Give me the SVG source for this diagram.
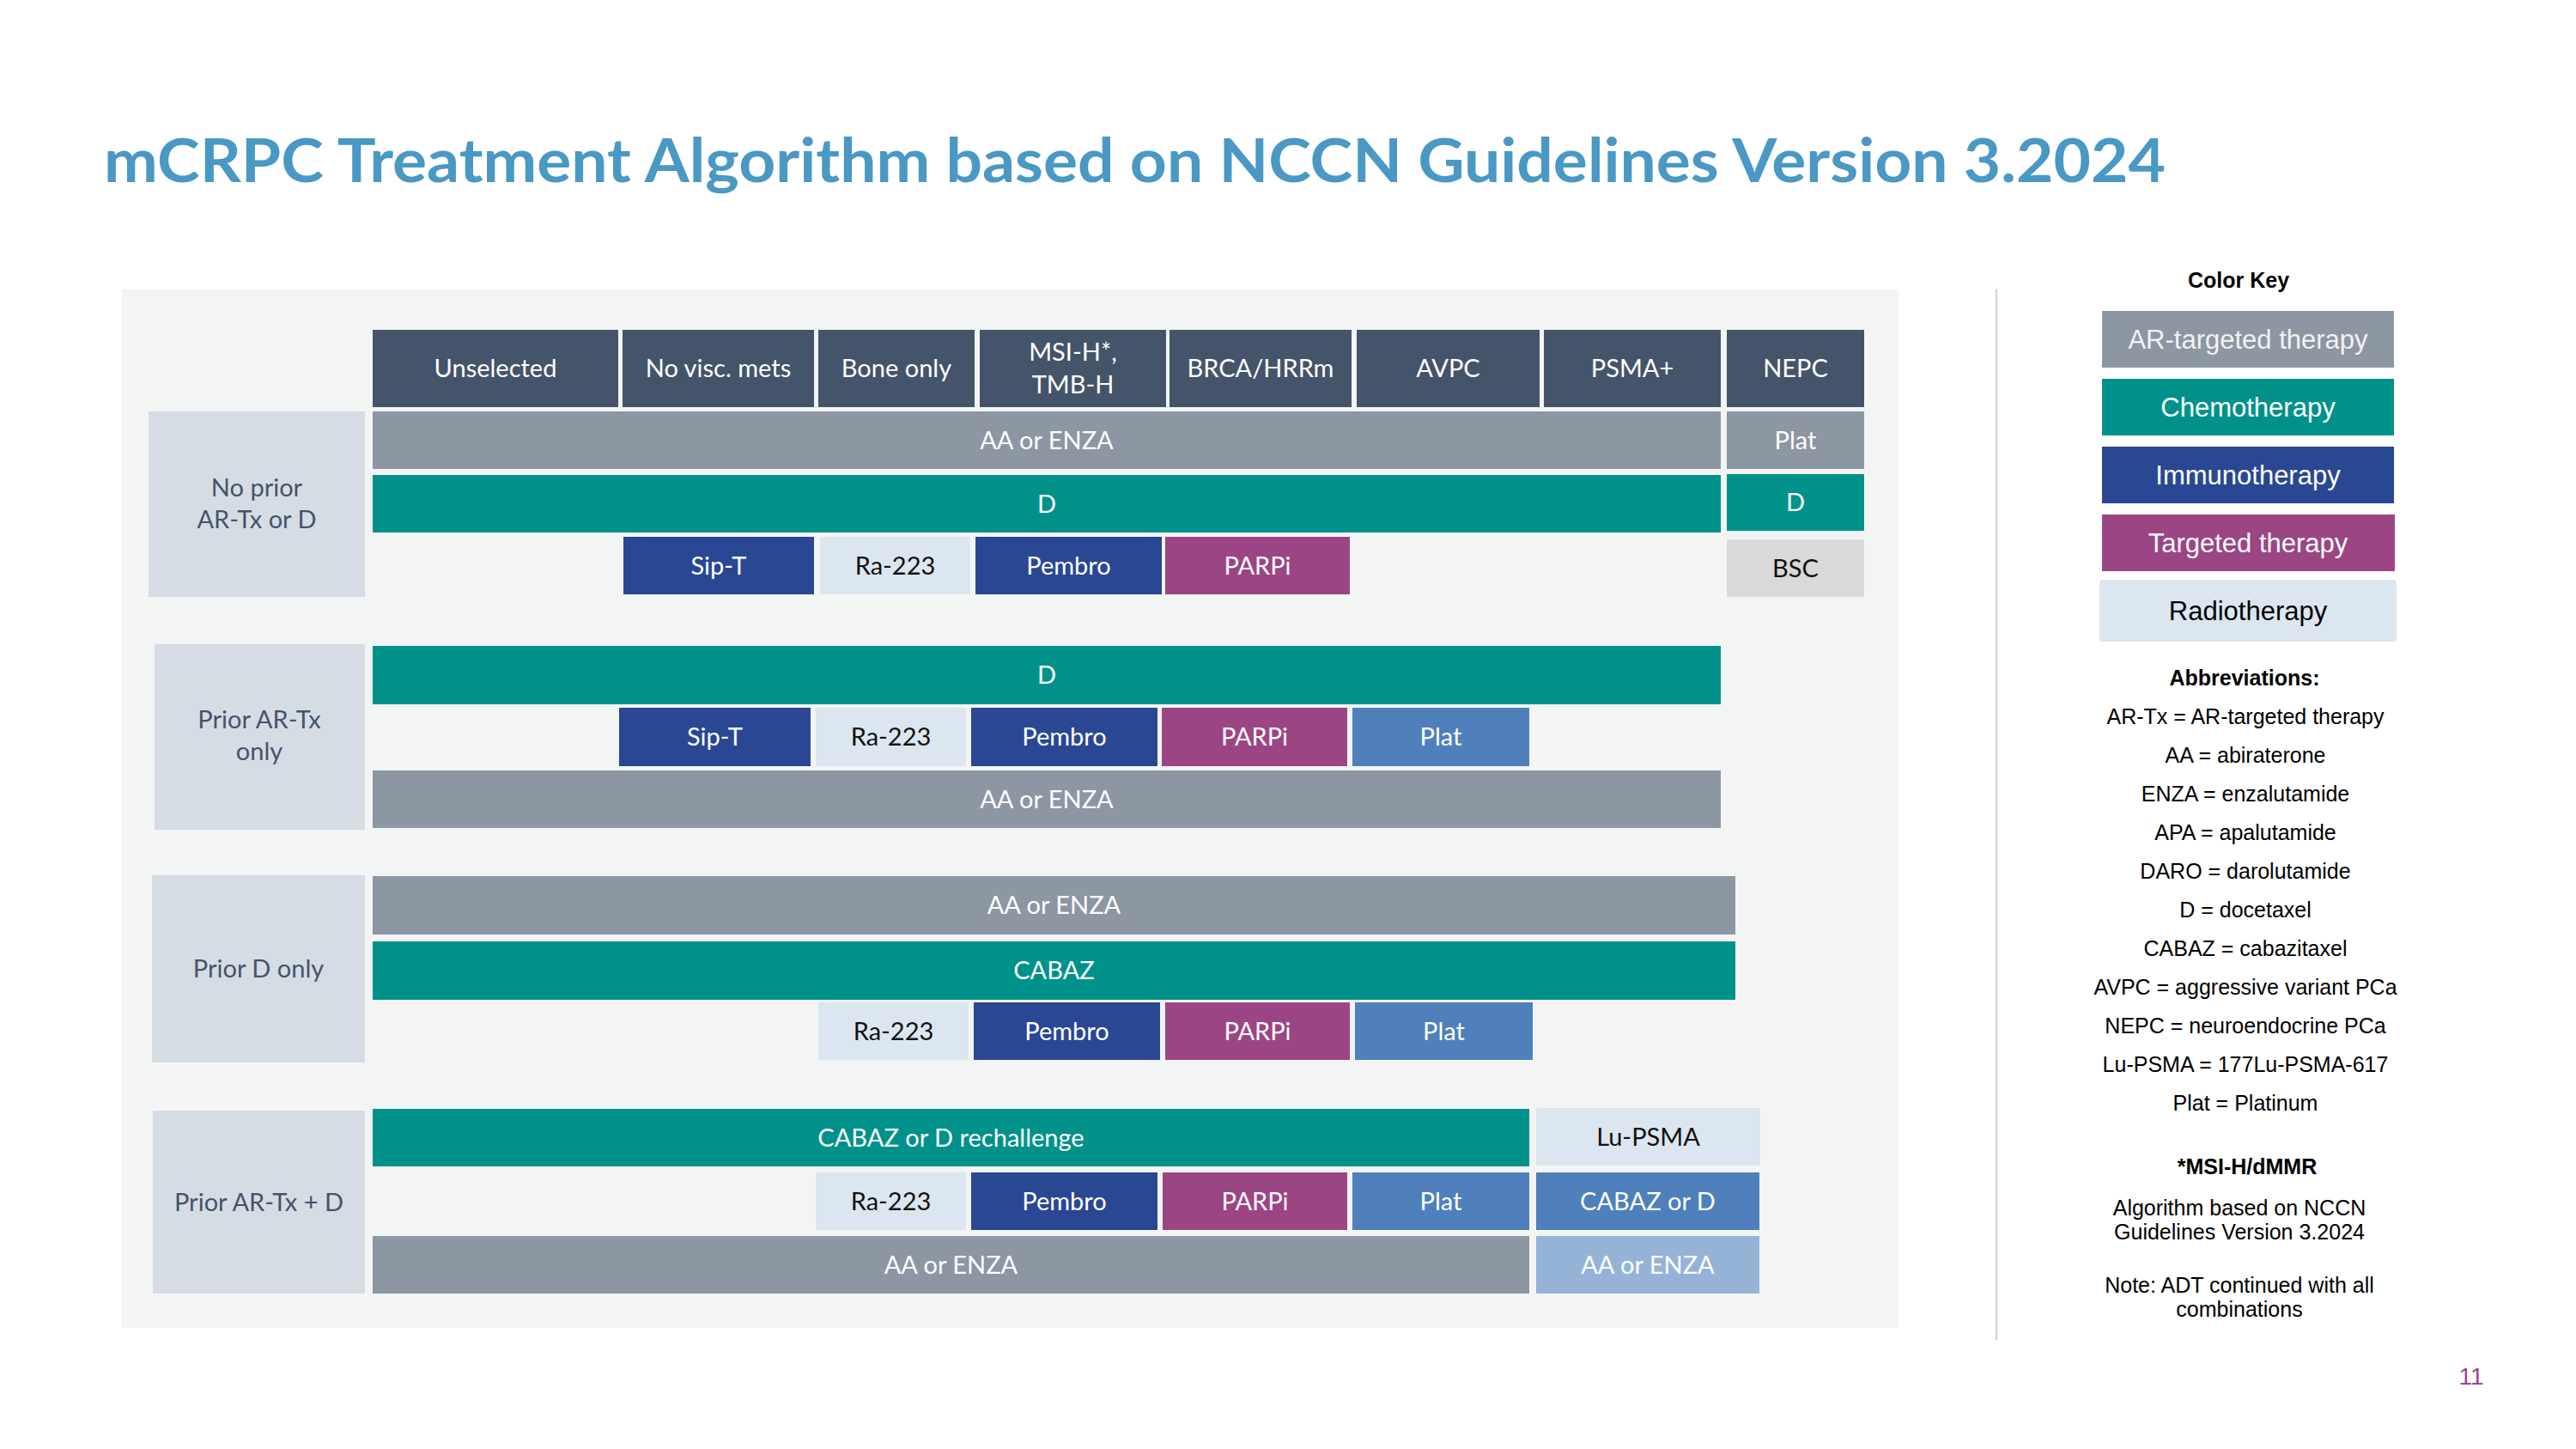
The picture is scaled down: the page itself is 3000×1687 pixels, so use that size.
<svg xmlns="http://www.w3.org/2000/svg" width="3000" height="1687" viewBox="0 0 3000 1687">
<style>
.hdr{fill:#44546A}
.ar{fill:#8D96A3}
.chemo{fill:#00928A}
.immuno{fill:#2A4794}
.target{fill:#9C4585}
.radio{fill:#DCE6F0}
.plat{fill:#4F80BB}
.arlight{fill:#95B3D7}
.bsc{fill:#D9D9D9}
.lbl{fill:#D6DCE4}
.t{font-family:Lato,"Open Sans","Liberation Sans",sans-serif;font-size:29px;text-anchor:middle}
.w{fill:#FFFFFF}
.k{fill:#111111}
.s{fill:#44546A}
.leg{font-family:"Liberation Sans",Arial,sans-serif;text-anchor:middle;fill:#000000}
.legbox{font-family:"Liberation Sans",Arial,sans-serif;text-anchor:middle;font-size:31px}
.ab{font-size:25px}
.b{font-weight:bold}
</style>
<rect width="3000" height="1687" fill="#FFFFFF"/>
<text id="title" x="121" y="212" font-family="Lato,'Open Sans',sans-serif" font-weight="bold" font-size="70" fill="#4A98C4" textLength="2401" lengthAdjust="spacingAndGlyphs">mCRPC Treatment Algorithm based on NCCN Guidelines Version 3.2024</text>
<rect id="panel" x="142" y="337" width="2069" height="1209" fill="#F3F5F5"/>
<g id="connectors"/>
<g id="header">
<g id="h-unselected"><rect class="hdr" x="434" y="384" width="286" height="90"/><text class="t w" x="577" y="439">Unselected</text></g>
<g id="h-novisc"><rect class="hdr" x="725" y="384" width="223" height="90"/><text class="t w" x="836.5" y="439">No visc. mets</text></g>
<g id="h-bone"><rect class="hdr" x="953" y="384" width="182" height="90"/><text class="t w" x="1044" y="439">Bone only</text></g>
<g id="h-msi"><rect class="hdr" x="1141" y="384" width="217" height="90"/><text class="t w" x="1249.5" y="420">MSI-H*,</text><text class="t w" x="1249.5" y="458">TMB-H</text></g>
<g id="h-brca"><rect class="hdr" x="1362" y="384" width="212" height="90"/><text class="t w" x="1468" y="439">BRCA/HRRm</text></g>
<g id="h-avpc"><rect class="hdr" x="1580" y="384" width="213" height="90"/><text class="t w" x="1686.5" y="439">AVPC</text></g>
<g id="h-psma"><rect class="hdr" x="1798" y="384" width="206" height="90"/><text class="t w" x="1901" y="439">PSMA+</text></g>
<g id="h-nepc"><rect class="hdr" x="2011" y="384" width="160" height="90"/><text class="t w" x="2091" y="439">NEPC</text></g>
</g>
<g id="group1">
<g id="g1-label"><rect class="lbl" x="173" y="479" width="252" height="216"/><text class="t s" x="299" y="578">No prior</text><text class="t s" x="299" y="615">AR-Tx or D</text></g>
<g id="g1-aa"><rect class="ar" x="434" y="479" width="1570" height="67"/><text class="t w" x="1219" y="523">AA or ENZA</text></g>
<g id="g1-plat"><rect class="ar" x="2011" y="479" width="160" height="67"/><text class="t w" x="2091" y="523">Plat</text></g>
<g id="g1-d"><rect class="chemo" x="434" y="553" width="1570" height="67"/><text class="t w" x="1219" y="597">D</text></g>
<g id="g1-d-nepc"><rect class="chemo" x="2011" y="552" width="160" height="66"/><text class="t w" x="2091" y="595">D</text></g>
<g id="g1-sipt"><rect class="immuno" x="726" y="625" width="222" height="67"/><text class="t w" x="837" y="669">Sip-T</text></g>
<g id="g1-ra"><rect class="radio" x="955" y="625" width="175" height="67"/><text class="t k" x="1042.5" y="669">Ra-223</text></g>
<g id="g1-pembro"><rect class="immuno" x="1136" y="625" width="217" height="67"/><text class="t w" x="1244.5" y="669">Pembro</text></g>
<g id="g1-parpi"><rect class="target" x="1357" y="625" width="215" height="67"/><text class="t w" x="1464.5" y="669">PARPi</text></g>
<g id="g1-bsc"><rect class="bsc" x="2011" y="628" width="160" height="67"/><text class="t k" x="2091" y="672">BSC</text></g>
</g>
<g id="group2">
<g id="g2-label"><rect class="lbl" x="180" y="750" width="245" height="216"/><text class="t s" x="302" y="848">Prior AR-Tx</text><text class="t s" x="302" y="885">only</text></g>
<g id="g2-d"><rect class="chemo" x="434" y="752" width="1570" height="68"/><text class="t w" x="1219" y="796">D</text></g>
<g id="g2-sipt"><rect class="immuno" x="721" y="824" width="223" height="68"/><text class="t w" x="832.5" y="868">Sip-T</text></g>
<g id="g2-ra"><rect class="radio" x="950" y="824" width="175" height="68"/><text class="t k" x="1037.5" y="868">Ra-223</text></g>
<g id="g2-pembro"><rect class="immuno" x="1131" y="824" width="217" height="68"/><text class="t w" x="1239.5" y="868">Pembro</text></g>
<g id="g2-parpi"><rect class="target" x="1353" y="824" width="216" height="68"/><text class="t w" x="1461" y="868">PARPi</text></g>
<g id="g2-plat"><rect class="plat" x="1575" y="824" width="206" height="68"/><text class="t w" x="1678" y="868">Plat</text></g>
<g id="g2-aa"><rect class="ar" x="434" y="897" width="1570" height="67"/><text class="t w" x="1219" y="941">AA or ENZA</text></g>
</g>
<g id="group3">
<g id="g3-label"><rect class="lbl" x="177" y="1019" width="248" height="218"/><text class="t s" x="301" y="1138">Prior D only</text></g>
<g id="g3-aa"><rect class="ar" x="434" y="1020" width="1587" height="68"/><text class="t w" x="1227.5" y="1064">AA or ENZA</text></g>
<g id="g3-cabaz"><rect class="chemo" x="434" y="1096" width="1587" height="68"/><text class="t w" x="1227.5" y="1140">CABAZ</text></g>
<g id="g3-ra"><rect class="radio" x="953" y="1167" width="175" height="67"/><text class="t k" x="1040.5" y="1211">Ra-223</text></g>
<g id="g3-pembro"><rect class="immuno" x="1134" y="1167" width="217" height="67"/><text class="t w" x="1242.5" y="1211">Pembro</text></g>
<g id="g3-parpi"><rect class="target" x="1357" y="1167" width="215" height="67"/><text class="t w" x="1464.5" y="1211">PARPi</text></g>
<g id="g3-plat"><rect class="plat" x="1578" y="1167" width="207" height="67"/><text class="t w" x="1681.5" y="1211">Plat</text></g>
</g>
<g id="group4">
<g id="g4-label"><rect class="lbl" x="178" y="1293" width="247" height="213"/><text class="t s" x="301.5" y="1410">Prior AR-Tx + D</text></g>
<g id="g4-cabaz"><rect class="chemo" x="434" y="1291" width="1347" height="67"/><text class="t w" x="1107.5" y="1335">CABAZ or D rechallenge</text></g>
<g id="g4-lu"><rect class="radio" x="1789" y="1290" width="261" height="67"/><text class="t k" x="1919.5" y="1334">Lu-PSMA</text></g>
<g id="g4-ra"><rect class="radio" x="950" y="1365" width="175" height="67"/><text class="t k" x="1037.5" y="1409">Ra-223</text></g>
<g id="g4-pembro"><rect class="immuno" x="1131" y="1365" width="217" height="67"/><text class="t w" x="1239.5" y="1409">Pembro</text></g>
<g id="g4-parpi"><rect class="target" x="1354" y="1365" width="215" height="67"/><text class="t w" x="1461.5" y="1409">PARPi</text></g>
<g id="g4-plat"><rect class="plat" x="1575" y="1365" width="206" height="67"/><text class="t w" x="1678" y="1409">Plat</text></g>
<g id="g4-cabazd"><rect class="plat" x="1789" y="1365" width="260" height="67"/><text class="t w" x="1919" y="1409">CABAZ or D</text></g>
<g id="g4-aa"><rect class="ar" x="434" y="1439" width="1347" height="67"/><text class="t w" x="1107.5" y="1483">AA or ENZA</text></g>
<g id="g4-aa2"><rect class="arlight" x="1789" y="1439" width="260" height="67"/><text class="t w" x="1919" y="1483">AA or ENZA</text></g>
</g>
<line id="divider" x1="2325" y1="337" x2="2325" y2="1560" stroke="#D0D0D0" stroke-width="2"/>
<g id="colorkey">
<text class="leg b ab" x="2607" y="335">Color Key</text>
<g id="key-ar"><rect class="ar" x="2448" y="362" width="340" height="66"/><text class="legbox" x="2618" y="406" fill="#F2F2F2">AR-targeted therapy</text></g>
<g id="key-chemo"><rect class="chemo" x="2448" y="441" width="340" height="66"/><text class="legbox" x="2618" y="485" fill="#FFFFFF">Chemotherapy</text></g>
<g id="key-immuno"><rect class="immuno" x="2448" y="520" width="340" height="66"/><text class="legbox" x="2618" y="564" fill="#FFFFFF">Immunotherapy</text></g>
<g id="key-target"><rect class="target" x="2448" y="599" width="341" height="66"/><text class="legbox" x="2618" y="643" fill="#FFFFFF">Targeted therapy</text></g>
<g id="key-radio"><rect class="radio" x="2445" y="675" width="346" height="72" rx="4"/><text class="legbox" x="2618" y="722" fill="#000000">Radiotherapy</text></g>
</g>
<g id="abbreviations">
<text class="leg b ab" x="2614" y="798">Abbreviations:</text>
<text class="leg ab" x="2615" y="843">AR-Tx = AR-targeted therapy</text>
<text class="leg ab" x="2615" y="888">AA = abiraterone</text>
<text class="leg ab" x="2615" y="933">ENZA = enzalutamide</text>
<text class="leg ab" x="2615" y="978">APA = apalutamide</text>
<text class="leg ab" x="2615" y="1023">DARO = darolutamide</text>
<text class="leg ab" x="2615" y="1068">D = docetaxel</text>
<text class="leg ab" x="2615" y="1113">CABAZ = cabazitaxel</text>
<text class="leg ab" x="2615" y="1158">AVPC = aggressive variant PCa</text>
<text class="leg ab" x="2615" y="1203">NEPC = neuroendocrine PCa</text>
<text class="leg ab" x="2615" y="1248">Lu-PSMA = 177Lu-PSMA-617</text>
<text class="leg ab" x="2615" y="1293">Plat = Platinum</text>
<text class="leg b ab" x="2617" y="1367">*MSI-H/dMMR</text>
<text class="leg ab" x="2608" y="1415">Algorithm based on NCCN</text>
<text class="leg ab" x="2608" y="1443">Guidelines Version 3.2024</text>
<text class="leg ab" x="2608" y="1505">Note: ADT continued with all</text>
<text class="leg ab" x="2608" y="1533">combinations</text>
</g>
<text id="pagenum" x="2878" y="1612" font-family="'Liberation Sans',Arial,sans-serif" font-size="28" text-anchor="middle" fill="#9B4584">11</text>
</svg>
